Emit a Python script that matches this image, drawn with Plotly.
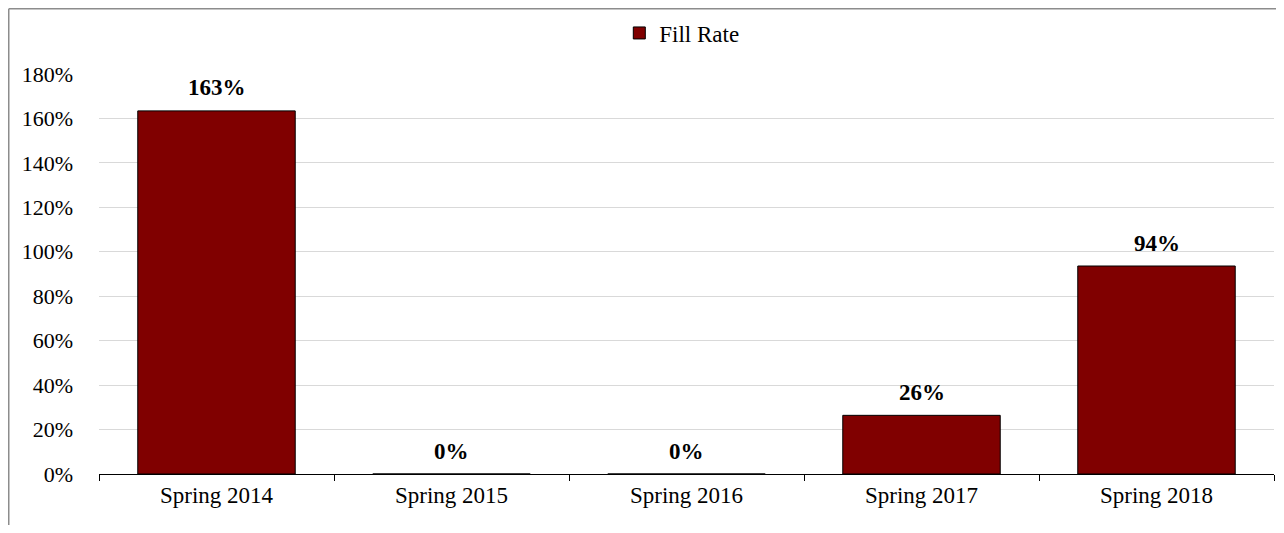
import plotly.graph_objects as go

# Data
terms = ["Spring 2014", "Spring 2015", "Spring 2016", "Spring 2017", "Spring 2018"]
fill_rate = [1.634, 0.0, 0.0, 0.264, 0.936]
y_ticks = [0, 0.2, 0.4, 0.6, 0.8, 1.0, 1.2, 1.4, 1.6, 1.8]

bar_color = "#800000"
font_family = "Liberation Serif, Times New Roman, serif"

fig = go.Figure()

fig.add_trace(go.Bar(
    x=terms,
    y=fill_rate,
    name="Fill Rate",
    marker=dict(color=bar_color, line=dict(color="black", width=1)),
    width=0.67,
    hoverinfo="skip",
))

# Bold data labels above each bar
for t, v in zip(terms, fill_rate):
    fig.add_annotation(
        x=t, y=v,
        text=f"<b>{v:.0%}</b>",
        showarrow=False,
        yanchor="middle",
        yshift=23,
        font=dict(family=font_family, size=23, color="black"),
    )

# Outer chart border (only left and top edges are visible)
fig.add_shape(type="line", xref="paper", yref="paper",
              x0=-0.0768, x1=1.2, y0=1.1631, y1=1.1631,
              line=dict(color="#8c8c8c", width=1.5))
fig.add_shape(type="line", xref="paper", yref="paper",
              x0=-0.0768, x1=-0.0768, y0=-0.3, y1=1.1631,
              line=dict(color="#8c8c8c", width=1.5))

# page body keeps its 8px margin, so the figure is sized to fit inside it
fig.update_layout(
    width=1268,
    height=517,
    margin=dict(l=91, r=2, t=66, b=51, autoexpand=False),
    plot_bgcolor="white",
    paper_bgcolor="white",
    font=dict(family=font_family, size=22, color="black"),
    showlegend=True,
    legend=dict(
        orientation="h",
        x=0.496, xanchor="center",
        y=1.1025, yanchor="middle",
        font=dict(family=font_family, size=23, color="black"),
        itemwidth=30,
    ),
    bargap=0.33,
)

fig.update_xaxes(
    showline=True,
    linecolor="black",
    linewidth=1,
    ticks="outside",
    tickson="boundaries",
    ticklen=6,
    tickcolor="black",
    showgrid=False,
    automargin=False,
    tickfont=dict(family=font_family, size=23, color="black"),
)

fig.update_yaxes(
    range=[0, 1.8],
    tickvals=y_ticks,
    tickformat=".0%",
    showgrid=True,
    gridcolor="#d9d9d9",
    gridwidth=1,
    zeroline=False,
    showline=False,
    ticks="",
    ticklabelstandoff=25,
    automargin=False,
    tickfont=dict(family=font_family, size=22, color="black"),
)

fig.write_html("out.html")
